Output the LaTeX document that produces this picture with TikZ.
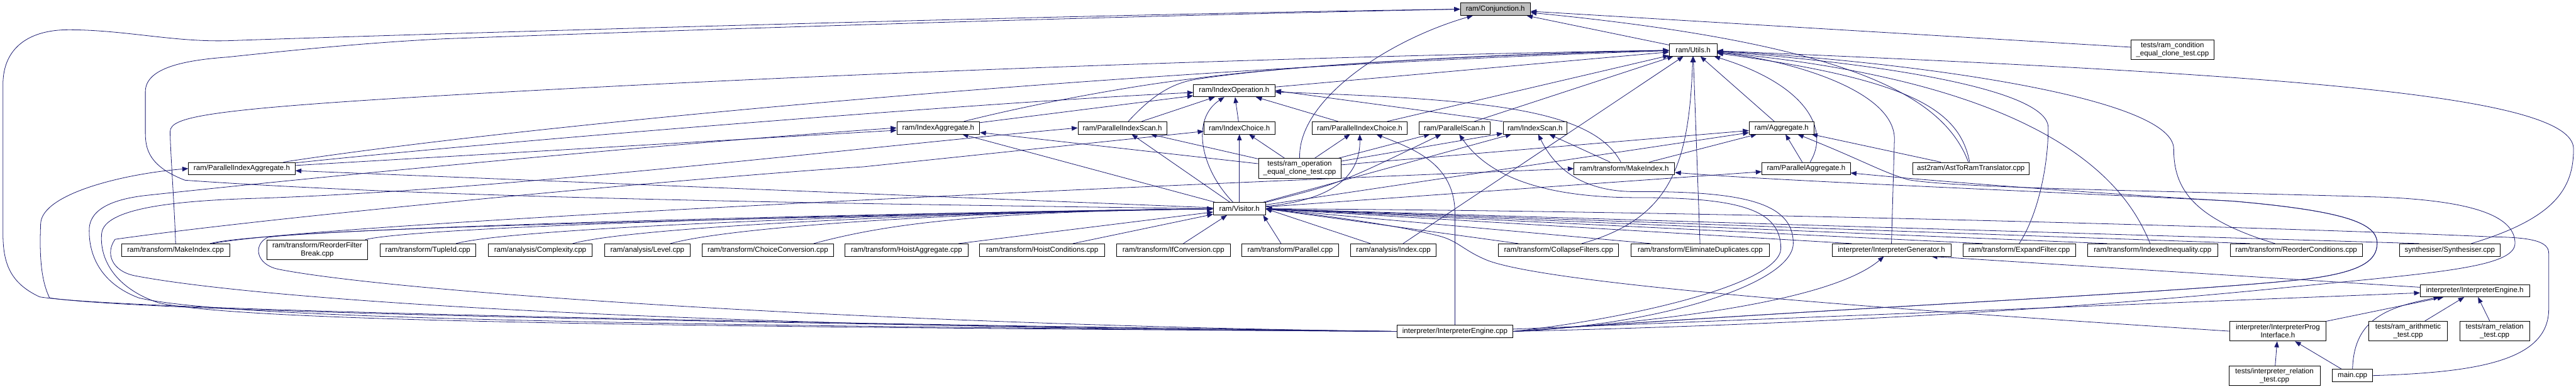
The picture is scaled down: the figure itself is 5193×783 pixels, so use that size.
\documentclass[tikz,border=0pt]{standalone}
\usepackage{fontspec}
\setmainfont{Liberation Sans}
\usetikzlibrary{arrows.meta,calc}
\definecolor{edgeblue}{HTML}{191970}
\definecolor{hlgray}{HTML}{BFBFBF}
\pgfdeclarelayer{back}
\pgfdeclarelayer{edges}
\pgfsetlayers{back,edges,main}
\begin{document}
\begin{tikzpicture}[x=0.75pt,y=-0.75pt,
  nd/.style={draw=black,line width=0.75pt,fill=white,inner sep=0pt,minimum height=18.75pt,align=center,font=\fontsize{11}{12.5}\selectfont},
  nd2/.style={nd,minimum height=30pt},
  e/.style={draw=edgeblue,line width=0.75pt,-{Triangle[length=9pt,width=7pt]}}]
\useasboundingbox (0,0) rectangle (5193,783);
\begin{pgfonlayer}{back}
\fill[white] (0,0) rectangle (5193,783);
\end{pgfonlayer}

% ---------- nodes ----------
\node[nd,fill=hlgray,minimum width=105.75pt] (C) at (3014.5,18.5) {ram/Conjunction.h};
\node[nd,minimum width=72pt] (U) at (3413,100.5) {ram/Utils.h};
\node[nd2,minimum width=125.25pt] (TC) at (4379.5,100) {tests/ram\_condition\\\_equal\_clone\_test.cpp};
\node[nd,minimum width=123pt] (IO) at (2488,182.5) {ram/IndexOperation.h};
\node[nd,minimum width=125.25pt] (IA) at (1891.5,257.5) {ram/IndexAggregate.h};
\node[nd,minimum width=134.25pt] (PIS) at (2262.5,257.5) {ram/ParallelIndexScan.h};
\node[nd,minimum width=107.25pt] (ICh) at (2498.5,257.5) {ram/IndexChoice.h};
\node[nd,minimum width=144pt] (PICh) at (2741,257.5) {ram/ParallelIndexChoice.h};
\node[nd,minimum width=107.25pt] (PS) at (2932.5,257.5) {ram/ParallelScan.h};
\node[nd,minimum width=96.75pt] (IS) at (3094.5,257.5) {ram/IndexScan.h};
\node[nd,minimum width=98.25pt] (Ag) at (3591.5,257.5) {ram/Aggregate.h};
\node[nd2,minimum width=124.5pt] (TO) at (2620,339) {tests/ram\_operation\\\_equal\_clone\_test.cpp};
\node[nd,minimum width=161.25pt] (PIA) at (487.5,339.5) {ram/ParallelIndexAggregate.h};
\node[nd,minimum width=152.25pt] (MIh) at (3274.5,339.5) {ram/transform/MakeIndex.h};
\node[nd,minimum width=133.5pt] (PA) at (3641,339.5) {ram/ParallelAggregate.h};
\node[nd,minimum width=175.5pt] (AST) at (3973,339.5) {ast2ram/AstToRamTranslator.cpp};
\node[nd,minimum width=78.75pt] (V) at (2498.5,420.5) {ram/Visitor.h};

\node[nd,minimum width=163.5pt] (MIc) at (354,503.5) {ram/transform/MakeIndex.cpp};
\node[nd2,minimum width=152.25pt] (RFB) at (639.5,503) {ram/transform/ReorderFilter\\Break.cpp};
\node[nd,minimum width=144.75pt] (TID) at (862.5,503.5) {ram/transform/TupleId.cpp};
\node[nd,minimum width=157.5pt] (CX) at (1089,503.5) {ram/analysis/Complexity.cpp};
\node[nd,minimum width=129pt] (LV) at (1305,503.5) {ram/analysis/Level.cpp};
\node[nd,minimum width=198pt] (CC) at (1548,503.5) {ram/transform/ChoiceConversion.cpp};
\node[nd,minimum width=186.75pt] (HA) at (1827.5,503.5) {ram/transform/HoistAggregate.cpp};
\node[nd,minimum width=189pt] (HC) at (2101,503.5) {ram/transform/HoistConditions.cpp};
\node[nd,minimum width=171.75pt] (IF) at (2365.5,503.5) {ram/transform/IfConversion.cpp};
\node[nd,minimum width=147pt] (PAR) at (2601,503.5) {ram/transform/Parallel.cpp};
\node[nd,minimum width=129pt] (IDX) at (2809,503.5) {ram/analysis/Index.cpp};
\node[nd,minimum width=181.5pt] (CF) at (3142,503.5) {ram/transform/CollapseFilters.cpp};
\node[nd,minimum width=209.25pt] (ED) at (3427.5,503.5) {ram/transform/EliminateDuplicates.cpp};
\node[nd,minimum width=180pt] (IG) at (3813,503.5) {interpreter/InterpreterGenerator.h};
\node[nd,minimum width=170.25pt] (EF) at (4070.5,503.5) {ram/transform/ExpandFilter.cpp};
\node[nd,minimum width=197.25pt] (II) at (4339.5,503.5) {ram/transform/IndexedInequality.cpp};
\node[nd,minimum width=199.5pt] (RC) at (4629,503.5) {ram/transform/ReorderConditions.cpp};
\node[nd,minimum width=152.25pt] (SY) at (4938.5,503.5) {synthesiser/Synthesiser.cpp};

\node[nd,minimum width=165pt] (IEh) at (4989,585.5) {interpreter/InterpreterEngine.h};
\node[nd,minimum width=175.5pt] (IEc) at (2933,667.5) {interpreter/InterpreterEngine.cpp};
\node[nd2,minimum width=145.5pt] (IPI) at (4592,667) {interpreter/InterpreterProg\\Interface.h};
\node[nd2,minimum width=119.25pt] (RA) at (4854.5,667) {tests/ram\_arithmetic\\\_test.cpp};
\node[nd2,minimum width=105pt] (RR) at (5029,667) {tests/ram\_relation\\\_test.cpp};
\node[nd2,minimum width=138pt] (IRT) at (4585,757) {tests/interpreter\_relation\\\_test.cpp};
\node[nd,minimum width=60.75pt] (MAIN) at (4742.5,756.5) {main.cpp};

% ---------- edges ----------
\begin{pgfonlayer}{edges}
% into Conjunction.h
\draw[e] (U) -- (C);
\draw[e] (TO.north) .. controls (2616,200) and (2800,80) .. (C);
\draw[e] (TC) -- (C);
\draw[e] (AST) .. controls (3920,200) and (3750,90) .. (C);
\draw[e] (V.west) .. controls (1700,410) and (900,400) .. (373,363) .. controls (300,335) and (293,300) .. (293,267) -- (293,185) .. controls (293,140) and (360,122) .. (459,115) .. controls (600,100) and (750,85) .. (900,78) .. controls (1800,45) and (2600,25) .. (C.west);
\draw[e] (IEc.west) .. controls (1500,650) and (250,625) .. (80,598) .. controls (20,570) and (6,530) .. (6,470) -- (6,170) .. controls (6,95) and (60,60) .. (138,60) .. controls (250,60) and (350,85) .. (459,82) .. controls (800,70) and (2200,28) .. (C.west);

% into Utils.h
\draw[e] (IO) -- (U);
\draw[e] (IA) .. controls (2100,205) and (2300,170) .. (2410,158) .. controls (2600,132) and (3000,108) .. (U);
\draw[e] (PIS) .. controls (2320,195) and (2360,168) .. (2410,160) .. controls (2600,130) and (3000,110) .. (U);
\draw[e] (PICh) -- (U);
\draw[e] (PS) -- (U);
\draw[e] (Ag) -- (U);
\draw[e] (PA) .. controls (3690,260) and (3640,170) .. (U);
\draw[e] (AST) .. controls (3950,220) and (3850,160) .. (U);
\draw[e] (PIA) .. controls (1000,260) and (2200,140) .. (U);
\draw[e] (MIc.north) .. controls (352,420) and (343,300) .. (343,265) .. controls (343,235) and (420,220) .. (900,192) .. controls (1800,140) and (2800,110) .. (U);
\draw[e] (IDX) -- (U);
\draw[e] (CF) .. controls (3370,440) and (3405,330) .. (U);
\draw[e] (ED) -- (U);
\draw[e] (IG.north) -- (3819,280) .. controls (3819,180) and (3600,120) .. (U);
\draw[e] (EF.north) .. controls (4110,430) and (4129,330) .. (4129,257) .. controls (4129,170) and (3700,120) .. (U);
\draw[e] (II) .. controls (4290,380) and (4150,170) .. (U);
\draw[e] (RC) .. controls (4420,440) and (4382,380) .. (4382,300) .. controls (4382,190) and (3800,120) .. (U);
\draw[e] (SY) .. controls (5150,440) and (5188,380) .. (5188,300) .. controls (5188,190) and (4600,150) .. (U);

% into IndexOperation.h
\draw[e] (PIA) .. controls (1000,285) and (2000,205) .. (IO);
\draw[e] (IA) -- (IO);
\draw[e] (PIS) -- (IO);
\draw[e] (ICh) -- (IO);
\draw[e] (PICh) -- (IO);
\draw[e] (IS.north west) -- (IO.east);
\draw[e] (MIh) .. controls (3210,220) and (3000,200) .. (IO);
\draw[e] (V) .. controls (2420,340) and (2400,240) .. (IO);

% operation headers
\draw[e] (PIA) -- (IA);
\draw[e] (V) -- (IA);
\draw[e] (TO) -- (IA);
\draw[e] (V) -- (PIS);
\draw[e] (TO) -- (PIS);
\draw[e] (V) -- (ICh);
\draw[e] (TO) -- (ICh);
\draw[e] (TO) -- (PICh);
\draw[e] (V) .. controls (2720,400) and (2742,330) .. (PICh);
\draw[e] (IEc.north) -- (2933,430) .. controls (2933,330) and (2850,300) .. (PICh);
\draw[e] (TO) -- (PS);
\draw[e] (V.north east) .. controls (2700,370) .. (PS);
\draw[e] (TO) -- (IS);
\draw[e] (V) -- (IS);
\draw[e] (MIh) -- (IS);
\draw[e] (TO) -- (Ag);
\draw[e] (MIh) -- (Ag);
\draw[e] (V) -- (Ag);
\draw[e] (PA) -- (Ag);
\draw[e] (AST) -- (Ag);
\draw[e] (V) -- (PA);
\draw[e] (V) -- (PIA);
\draw[e] ($(MIc.north east)+(-35,0)$) .. controls +(150,-30) and +(-1500,60) .. (MIh.west);

% row into Visitor.h
\foreach \n in {MIc,TID,CX,LV,CC} {
  \draw[e] ($(\n.north east)+(-40,0)$) .. controls +(130,-35) and +(-500,6) .. (V.west);
}
\draw[e] ($(RFB.north east)+(-5,0)$) .. controls +(130,-30) and +(-500,6) .. (V.west);
\draw[e] (HA) -- (V);
\draw[e] (HC) -- (V);
\draw[e] ($(IF.north)+(20,0)$) -- ($(V.south)+(-25,0)$);
\draw[e] ($(PAR.north west)+(80,0)$) -- ($(V.south east)+(-5,0)$);
\foreach \n in {IDX,CF,ED,IG,EF,II,RC,SY} {
  \draw[e] ($(\n.north west)+(40,0)$) -- (V.east);
}

% InterpreterEngine.cpp loops on the left
\draw[e] (IEc.west) .. controls (1500,652) and (280,628) .. (100,600) .. controls (80,560) and (80,500) .. (82,450) .. controls (85,390) and (250,350) .. (PIA.west);
\draw[e] (IEc.west) .. controls (1200,655) and (450,640) .. (280,600) .. controls (200,570) and (178,510) .. (180,460) .. controls (182,420) and (230,400) .. (300,393) .. controls (700,350) and (1400,285) .. (IA.west);
\draw[e] (IEc.west) .. controls (1200,658) and (480,645) .. (320,610) .. controls (230,580) and (200,520) .. (205,470) .. controls (210,420) and (350,405) .. (500,400) .. controls (1000,385) and (1700,300) .. (PIS.west);
\draw[e] (IEc.west) .. controls (1300,660) and (500,600) .. (270,555) .. controls (225,545) and (212,510) .. (232,482) .. controls (600,430) and (1500,350) .. (1740,336) -- ($(ICh.west)+(0,7)$);
\draw[e] (IEc.west) .. controls (1800,655) and (800,590) .. (560,542) .. controls (515,532) and (510,492) .. (540,478) .. controls (700,455) and (2000,430) .. (V.west);

% InterpreterEngine.cpp loops on the right
\draw[e] (IEc.east) .. controls (3300,640) and (3590,570) .. (3590,500) .. controls (3590,420) and (3500,398) .. (3300,398) .. controls (3080,398) and (2990,340) .. (PS);
\draw[e] (IEc.east) .. controls (3350,655) and (3615,570) .. (3615,490) .. controls (3615,410) and (3520,385) .. (3300,386) .. controls (3180,387) and (3130,330) .. (IS);
\draw[e] (IEc.east) .. controls (3700,620) and (4400,590) .. (4650,562) .. controls (4760,548) and (4792,525) .. (4792,490) .. controls (4792,450) and (4730,425) .. (4500,405) .. controls (4200,388) and (3900,365) .. (PA);
\draw[e] (IEc.east) .. controls (3700,620) and (4400,590) .. (4650,562) .. controls (4760,548) and (4792,525) .. (4792,490) .. controls (4792,450) and (4730,425) .. (4500,405) .. controls (4000,380) and (3600,365) .. (MIh);
\draw[e] (IEc.east) .. controls (3800,650) and (4300,610) .. (4600,580) .. controls (4900,550) and (5070,540) .. (5070,490) .. controls (5070,440) and (5000,405) .. (4800,397) .. controls (4400,385) and (3950,380) .. (3847,362) .. controls (3790,345) and (3760,325) .. (Ag);
\draw[e] (IEc.east) .. controls (3400,645) and (3700,600) .. (IG);
\draw[e] (IEc) -- (IEh);
\draw[e] (IEh) -- ($(IG.south east)+(-40,0)$);

% interpreter / tests
\draw[e] (IPI) -- (IEh);
\draw[e] (IPI.west) .. controls (4000,635) and (3150,580) .. (3000,525) .. controls (2950,505) and (2940,485) .. (2900,475) .. controls (2800,450) and (2650,432) .. (V.east);
\draw[e] (RA) -- (IEh);
\draw[e] (RR) -- (IEh);
\draw[e] (IRT) -- (IPI);
\draw[e] (MAIN) -- (IPI);
\draw[e] (MAIN.north) .. controls (4745,650) and (4800,620) .. (IEh);
\draw[e] (MAIN.east) .. controls (5000,750) and (5140,725) .. (5138,620) -- (5138,510) .. controls (5138,485) and (5100,478) .. (5022,477) .. controls (4700,462) and (3500,425) .. (V.east);
\end{pgfonlayer}
\end{tikzpicture}
\end{document}
